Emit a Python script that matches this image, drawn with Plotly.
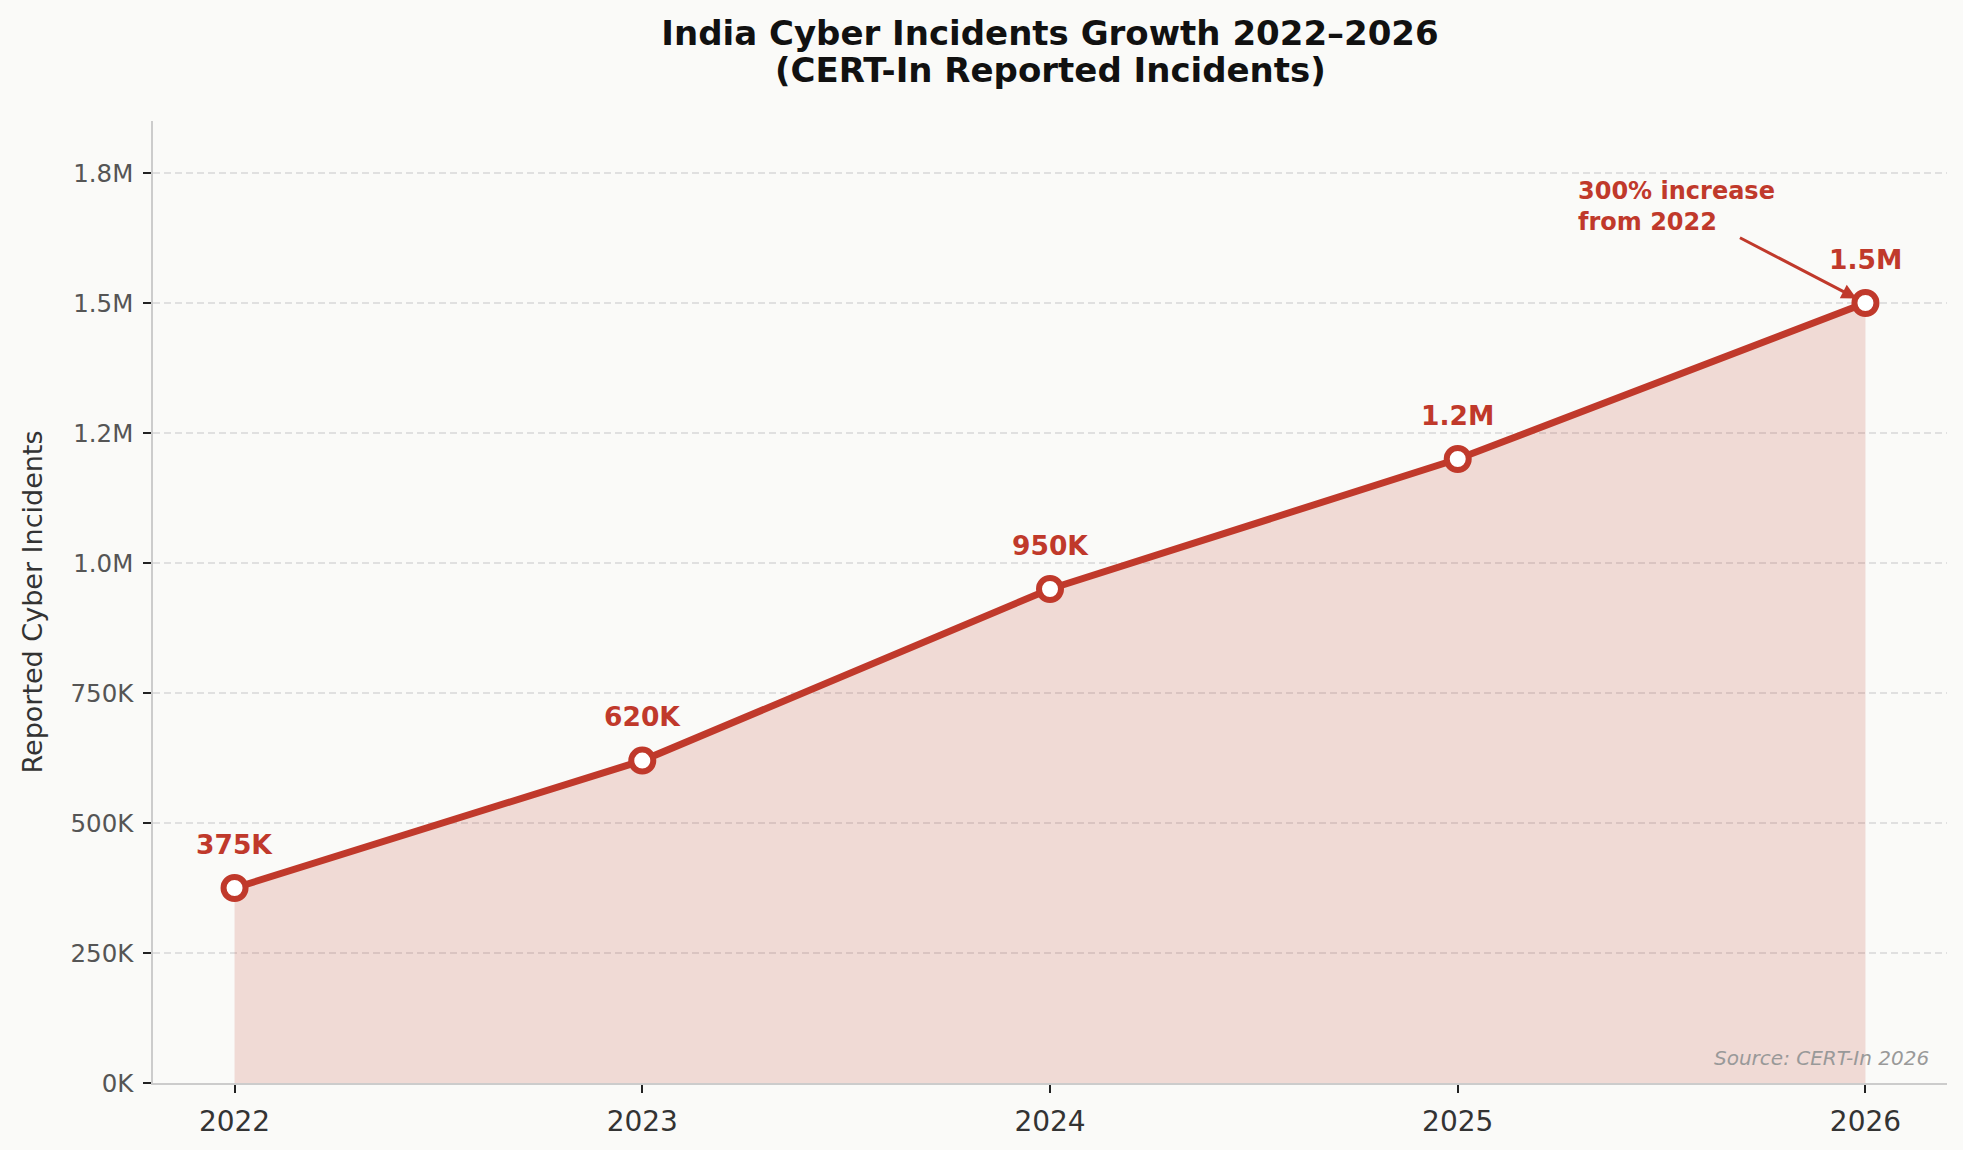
import plotly.graph_objects as go

years = [2022, 2023, 2024, 2025, 2026]
incidents = [375000, 620000, 950000, 1200000, 1500000]
point_labels = ["375K", "620K", "950K", "1.2M", "1.5M"]
ytick_vals = [0, 250000, 500000, 750000, 1000000, 1250000, 1500000, 1750000]
ytick_text = ["0K", "250K", "500K", "750K", "1.0M", "1.2M", "1.5M", "1.8M"]

RED = "#c0392b"
BG = "#fafaf8"
FONT = "DejaVu Sans"

fig = go.Figure()
fig.add_trace(go.Scatter(
    x=years, y=incidents, mode="lines", fill="tozeroy",
    fillcolor="rgba(192,57,43,0.17)",
    line=dict(color="rgba(192,57,43,0.2)", width=1.5),
    hoverinfo="skip", showlegend=False))
fig.add_trace(go.Scatter(
    x=years, y=incidents, mode="lines+markers",
    line=dict(color=RED, width=7),
    marker=dict(size=22, color="white", line=dict(color=RED, width=6)),
    showlegend=False))

for x, y, t in zip(years, incidents, point_labels):
    fig.add_annotation(x=x, y=y, text="<b>" + t + "</b>", showarrow=False,
                       yshift=44, font=dict(family=FONT, size=26.5, color=RED))

# arrow annotation
fig.add_annotation(x=years[-1], y=incidents[-1], text="", showarrow=True,
                   ax=-127, ay=-66, axref="pixel", ayref="pixel",
                   arrowhead=2, arrowsize=1, arrowwidth=3, arrowcolor=RED,
                   standoff=10)
fig.add_annotation(x=2025.29, y=1686000, text="<b>300% increase<br>from 2022</b>",
                   showarrow=False, xanchor="left", yanchor="middle", align="left",
                   font=dict(family=FONT, size=24, color=RED))

fig.add_annotation(xref="paper", yref="paper", x=0.991, y=0.026,
                   text="<i>Source: CERT-In 2026</i>", showarrow=False,
                   xanchor="right", yanchor="middle",
                   font=dict(family=FONT, size=20, color="#999999"))

# second title line
fig.add_annotation(xref="paper", yref="paper", x=0.5, y=1.0 + (121 - 70) / 966,
                   text="<b>(CERT-In Reported Incidents)</b>", showarrow=False,
                   xanchor="center", yanchor="middle",
                   font=dict(family=FONT, size=34, color="#111111"))

fig.update_layout(
    width=1963, height=1150, autosize=False,
    margin=dict(l=153, r=16, t=121, b=63),
    paper_bgcolor=BG, plot_bgcolor=BG,
    font=dict(family=FONT, color="#333333"),
    title=dict(text="<b>India Cyber Incidents Growth 2022–2026</b>",
               x=0.5, xref="paper", xanchor="center", y=1 - 33 / 1150, yref="container",
               yanchor="middle",
               font=dict(family=FONT, size=34, color="#111111")),
)
fig.update_xaxes(range=[2021.8, 2026.2], tickvals=years, ticktext=[str(y) for y in years],
                 showgrid=False, zeroline=False, showline=True, linecolor="#cccccc", linewidth=1.5,
                 ticks="outside", ticklen=8, tickwidth=1.5, tickcolor="#222222",
                 ticklabelstandoff=5,
                 tickfont=dict(family=FONT, size=28, color="#333333"))
fig.update_yaxes(range=[0, 1850000], tickvals=ytick_vals, ticktext=ytick_text,
                 showgrid=True, gridcolor="#e0e0e0", griddash="7px,4px", gridwidth=1.5,
                 zeroline=False, showline=True, linecolor="#cccccc", linewidth=1.5,
                 ticks="outside", ticklen=8, tickwidth=1.5, tickcolor="#222222",
                 ticklabelstandoff=5,
                 tickfont=dict(family=FONT, size=24.5, color="#555555"),
                 title=dict(text="Reported Cyber Incidents", standoff=20,
                            font=dict(family=FONT, size=27, color="#333333")))

fig.write_html("out.html")
